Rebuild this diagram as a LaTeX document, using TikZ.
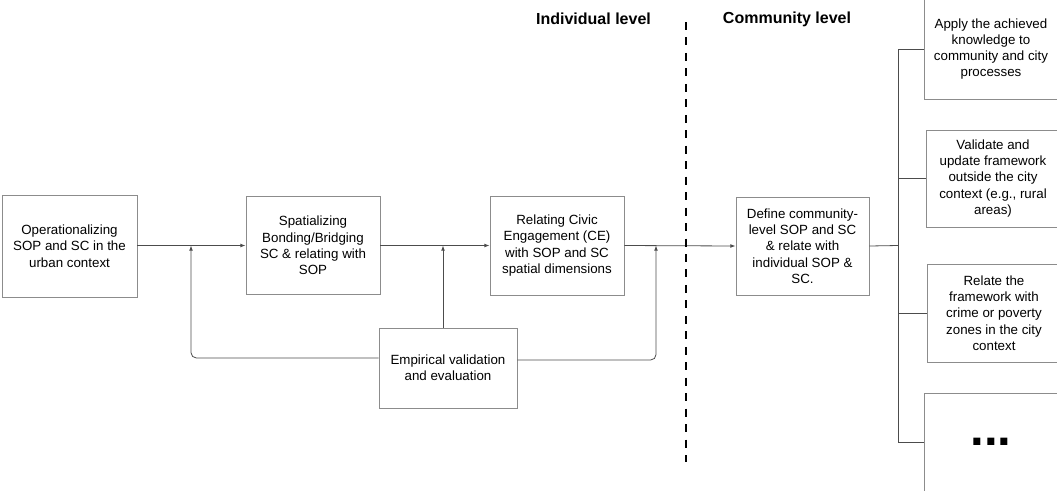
\documentclass[tikz,border=0pt]{standalone}
\usepackage{fontspec}
\setmainfont{Liberation Sans}
\usetikzlibrary{arrows.meta}
\begin{document}
\begin{tikzpicture}[x=0.75pt,y=-0.75pt,
        box/.style={draw=black!45, line width=0.7pt, align=center, inner sep=2pt,
            minimum width=100.5pt, minimum height=73.5pt, font=\fontsize{10}{12.2}\selectfont},
        conn/.style={draw=black!70, line width=0.6pt},
        arr/.style={conn, -{Latex[length=3.8pt,width=2.8pt]}},
        lvl/.style={font=\fontsize{12}{14}\selectfont\bfseries}]
        \useasboundingbox (0,0) rectangle (1057,490);
        \node[box, minimum width=101.25pt, minimum height=76.5pt] (v0) at (69.5,246) {Operationalizing\\SOP and SC in the\\urban context};
        \node[box] (v1) at (313,245.5) {Spatializing\\Bonding/Bridging\\SC \& relating with\\SOP};
        \node[box, minimum height=74.25pt] (v2) at (557,245.5) {Relating Civic\\Engagement (CE)\\with SOP and SC\\spatial dimensions};
        \node[box, minimum width=99.75pt] (v3) at (802.5,246) {Define community-\\level SOP and SC\\\& relate with\\individual SOP \&\\SC.};
        \node[box, minimum width=103.5pt, minimum height=60pt] (v4) at (448,368) {Empirical validation\\and evaluation};
        \node[box, minimum height=75pt] (v5) at (991,49) {Apply the achieved\\knowledge to\\community and city\\processes};
        \node[box, minimum height=72.75pt] (v6) at (993,178.5) {Validate and\\update framework\\outside the city\\context (e.g., rural\\areas)};
        \node[box] (v7) at (994,313) {Relate the\\framework with\\crime or poverty\\zones in the city\\context};
        \node[box, font=\fontsize{37}{37}\selectfont\bfseries] (v8) at (991,442) {...};
        \node[lvl] (l0) at (593.5,19) {Individual level};
        \node[lvl] (l1) at (787,19) {Community level};
        \coordinate (j0) at (191,245.5);
        \coordinate (j1) at (443,245.5);
        \coordinate (j2) at (656,245.5);
        \coordinate (bus) at (898,245.5);
        \coordinate (d0) at (686,22);
        \coordinate (d1) at (686,462);
        \draw[arr] (v0.east |- v1.west) -- (v1.west);
        \draw[arr] (v1.east) -- (v2.west);
        \draw[arr] (v2.east) -- (v3.west);
        \draw[arr, rounded corners=4pt] ([yshift=7.5pt]v4.west) -| (j0);
        \draw[arr] (j1 |- v4.north) -- (j1);
        \draw[arr, rounded corners=4pt] ([yshift=6pt]v4.east) -| (j2);
        \draw[conn] (v3.east) -- (bus);
        \draw[conn] (bus) |- (v5.west);
        \draw[conn] (bus) |- (v6.west);
        \draw[conn] (bus) |- (v7.west);
        \draw[conn] (bus) |- (v8.west);
        \draw[line width=2.2pt, dash pattern=on 6pt off 5.6pt] (d0) -- (d1);
\end{tikzpicture}
\end{document}
